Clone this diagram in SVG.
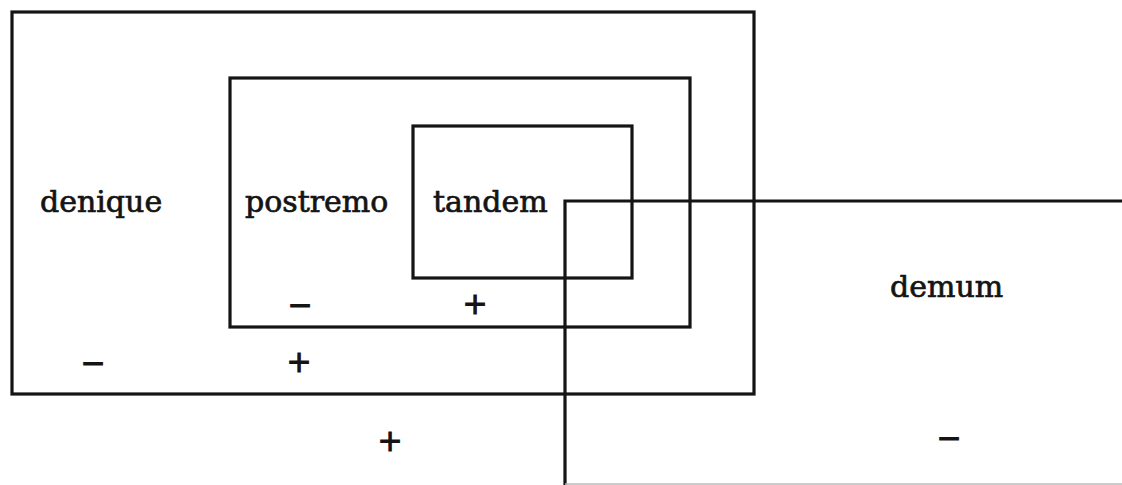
<svg xmlns="http://www.w3.org/2000/svg" width="1122" height="485" viewBox="0 0 1122 485">
  <style>
    .frame { fill: none; stroke: #141414; stroke-width: 3.2; stroke-linejoin: miter; }
    .label { font-family: "DejaVu Serif", "Liberation Serif", serif; font-size: 30px; fill: #141414; stroke: #141414; stroke-width: 0.7; }
    .sign { font-family: "DejaVu Sans", "Liberation Sans", sans-serif; font-size: 30px; fill: #141414; stroke: #141414; stroke-width: 1; text-anchor: middle; }
  </style>
  <rect width="1122" height="485" fill="#ffffff"/>

  <!-- outer region -->
  <g id="denique">
    <rect class="frame" x="12" y="12" width="742" height="382"/>
    <text class="label" x="40" y="212">denique</text>
    <text class="sign" x="93" y="373">−</text>
    <text class="sign" x="299" y="372">+</text>
  </g>

  <!-- middle region -->
  <g id="postremo">
    <rect class="frame" x="230" y="78" width="460" height="249"/>
    <text class="label" x="245" y="212">postremo</text>
    <text class="sign" x="300" y="315">−</text>
    <text class="sign" x="475" y="314">+</text>
  </g>

  <!-- inner region -->
  <g id="tandem">
    <rect class="frame" x="413" y="126" width="219" height="152"/>
    <text class="label" x="433" y="212">tandem</text>
  </g>

  <!-- crossing region, open to the right and bottom -->
  <g id="demum">
    <text class="label" x="890" y="297">demum</text>
    <text class="sign" x="949" y="448">−</text>
  </g>

  <!-- label of the space outside every region -->
  <g id="outside">
    <text class="sign" x="390" y="451">+</text>
  </g>

  <g id="connectors">
    <path class="frame" d="M1122 201 H565 V485"/>
    <line x1="565" y1="484" x2="1122" y2="484" stroke="#bbbbbb" stroke-width="1.5"/>
  </g>
</svg>
